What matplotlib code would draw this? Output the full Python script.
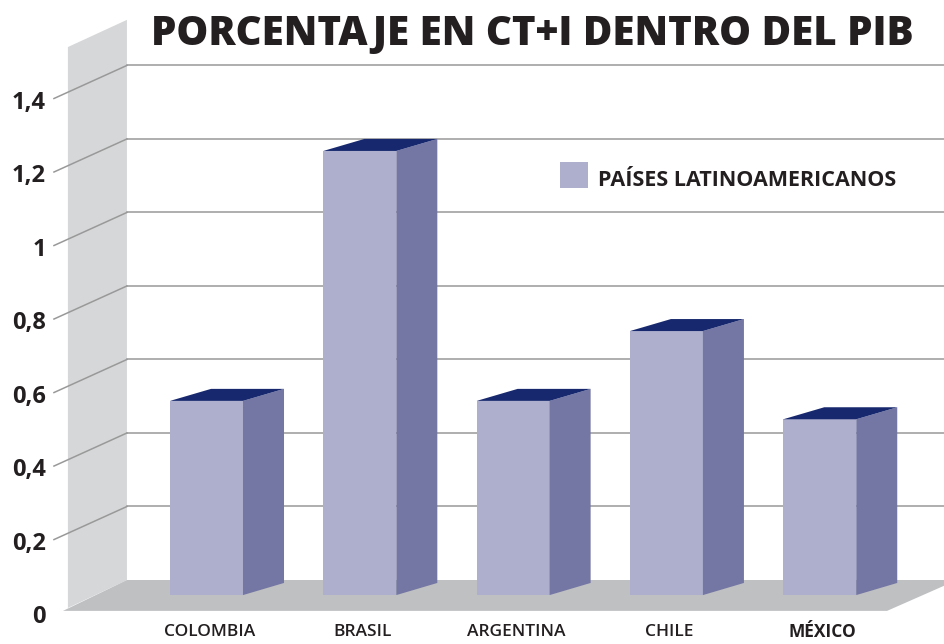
import matplotlib
matplotlib.use("Agg")
import matplotlib.pyplot as plt
from matplotlib.patches import Polygon, Rectangle

plt.rcParams['font.family'] = ['Open Sans', 'DejaVu Sans']

# data
paises = ["COLOMBIA", "BRASIL", "ARGENTINA", "CHILE", "MÉXICO"]
valores = [0.52, 1.2, 0.52, 0.71, 0.47]
ticks = [0, 0.2, 0.4, 0.6, 0.8, 1.0, 1.2, 1.4]
tick_labels = ["0", "0,2", "0,4", "0,6", "0,8", "1", "1,2", "1,4"]
titulo = "PORCENTAJE EN CT+I DENTRO DEL PIB"
leyenda = "PAÍSES LATINOAMERICANOS"

# colours
c_front = "#adafcd"
c_side = "#7476a3"
c_top = "#17286e"
c_wall = "#d6d7d9"
c_floor = "#bfc0c2"
c_grid = "#999999"

# layout (data units: x = category index, y = value)
wall_x = -0.519          # back wall left edge
wall_out = -0.904        # left wall outer edge
front_dx, front_dy = -0.476, -0.090   # slanted tick lines offset
floor_front_y = -0.084
bar_w = 0.476
depth_dx, depth_dy = 0.2675, 0.0327
bar_base_front = -0.041
bar_base_back = -0.008

fig = plt.figure(figsize=(9.45, 6.44), dpi=100)
ax = fig.add_axes([0, 0, 1, 1])
ax.set_xlim(-1.347, 4.817)
ax.set_ylim(-0.1741, 1.578)
ax.axis('off')

# left wall
ax.add_patch(Polygon([(wall_out, 1.450), (wall_x, 1.524), (wall_x, 0),
                      (wall_out, -0.076)], closed=True, fc=c_wall, ec='none', zorder=0))
# floor
ax.add_patch(Polygon([(wall_x, 0), (4.896, 0), (4.439, floor_front_y),
                      (-0.936, floor_front_y)], closed=True, fc=c_floor, ec='none', zorder=0))

# gridlines and ticks
for t, lab in zip(ticks, tick_labels):
    if t > 0:
        ax.plot([wall_x, 4.9], [t, t], color=c_grid, lw=1.1, zorder=1)
        ax.plot([wall_x + front_dx, wall_x], [t + front_dy, t], color=c_grid, lw=1.1, zorder=1)
    ax.text(-1.047, t + front_dy - 0.012, lab, ha='right', va='center',
            fontsize=17, fontweight='bold', color='#231f20')

# bars
for i, v in enumerate(valores):
    l, r = i - bar_w / 2, i + bar_w / 2
    top_f = v - depth_dy
    ax.add_patch(Rectangle((l, bar_base_front), bar_w, top_f - bar_base_front,
                           fc=c_front, ec='none', zorder=3))
    ax.add_patch(Polygon([(r, bar_base_front), (r, top_f), (r + depth_dx, v),
                          (r + depth_dx, bar_base_back)], closed=True,
                         fc=c_side, ec='none', zorder=3))
    ax.add_patch(Polygon([(l, top_f), (r, top_f), (r + depth_dx, v), (l + depth_dx, v)],
                         closed=True, fc=c_top, ec='none', zorder=3))
    ax.text(i + 0.02, -0.1415, paises[i], ha='center', va='center', fontsize=12.5,
            fontweight='bold' if paises[i] == "MÉXICO" else 'semibold', color='#231f20')

# legend
ax.add_patch(Rectangle((2.304, 1.067), 0.183, 0.070, fc=c_front, ec='none', zorder=3))
ax.text(2.553, 1.088, leyenda, ha='left', va='center', fontsize=15.5,
        fontweight='bold', color='#231f20')

fig.text(532 / 945, 1 - 35 / 644, titulo, ha='center', va='center', fontsize=29,
         fontweight='heavy', color='#231f20')

fig.savefig("out.png", dpi=100)
